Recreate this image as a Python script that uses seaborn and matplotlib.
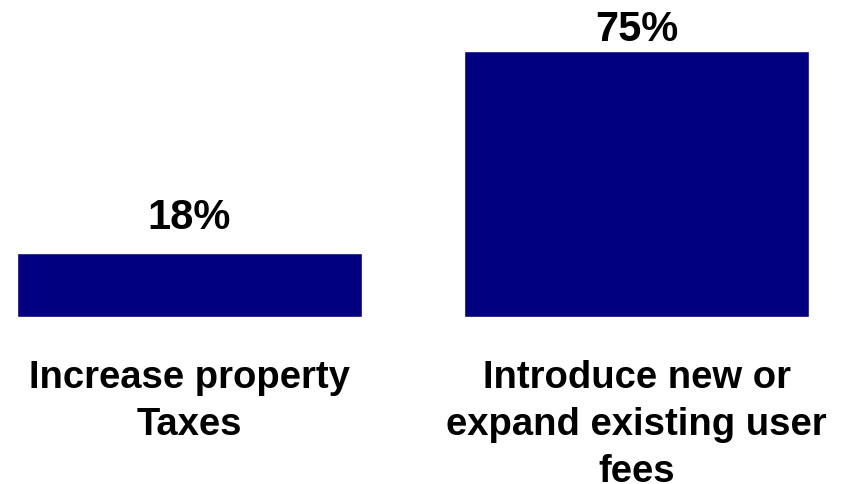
import matplotlib
matplotlib.use("Agg")
import matplotlib.pyplot as plt
import seaborn as sns
import pandas as pd

categories = ["Increase property\nTaxes", "Introduce new or\nexpand existing user\nfees"]
values = [18, 75]
value_labels = ["18%", "75%"]
label_pads = [18, 8]  # points above each bar

sns.set_style("white")
plt.rcParams["font.family"] = ["Liberation Sans", "DejaVu Sans"]

df = pd.DataFrame({"category": categories, "value": values})

fig = plt.figure(figsize=(8.49, 4.85), dpi=100)
ax = fig.add_axes([17 / 849, 167 / 485, 792 / 849, 318 / 485])

sns.barplot(data=df, x="category", y="value", color="#000080",
            saturation=1, width=0.771, ax=ax)

ax.set_xlim(-0.3855, 1.3855)
ax.set_ylim(0, 89.65)

for i, (v, lab, pad) in enumerate(zip(values, value_labels, label_pads)):
    ax.annotate(lab, xy=(i, v), xytext=(0, pad), textcoords="offset points",
                ha="center", va="baseline", fontsize=30, fontweight="bold",
                color="black")

ax.set_xlabel("")
ax.set_ylabel("")
ax.set_yticks([])
ax.tick_params(axis="x", length=0, pad=30, labelcolor="black")
for t in ax.get_xticklabels():
    t.set_fontsize(27.5)
    t.set_fontweight("bold")
    t.set_linespacing(1.4)
sns.despine(ax=ax, left=True, bottom=True)

fig.savefig("out.png", dpi=100)
